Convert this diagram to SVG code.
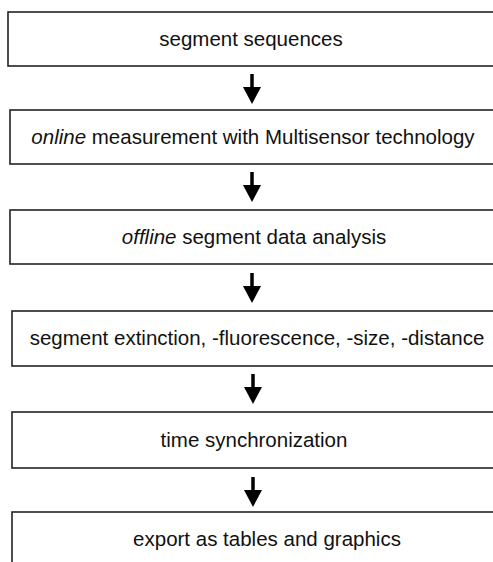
<svg xmlns="http://www.w3.org/2000/svg" width="493" height="562" viewBox="0 0 493 562">
<style>
.box{fill:#fff;stroke:#222;stroke-width:1.6}
.lbl{font-family:"Liberation Sans",Arial,sans-serif;font-size:20.5px;fill:#111;text-anchor:middle}
.shaft{stroke:#000;stroke-width:3.5;fill:none}
.head{fill:#000}
</style>
<rect width="493" height="562" fill="#fff"/>
<g id="connectors">
<line class="shaft" x1="252" y1="74" x2="252" y2="88"/><polygon class="head" points="243,87 261,87 252,104"/>
<line class="shaft" x1="252" y1="172" x2="252" y2="186"/><polygon class="head" points="243,185 261,185 252,202"/>
<line class="shaft" x1="252" y1="273" x2="252" y2="287"/><polygon class="head" points="243,286 261,286 252,303"/>
<line class="shaft" x1="253" y1="374" x2="253" y2="388"/><polygon class="head" points="244,387 262,387 253,404"/>
<line class="shaft" x1="253" y1="477" x2="253" y2="491"/><polygon class="head" points="244,490 262,490 253,507"/>
</g>
<g id="n1"><rect class="box" x="8" y="12" width="500" height="54"/><text class="lbl" x="251" y="46">segment sequences</text></g>
<g id="n2"><rect class="box" x="10" y="110" width="500" height="54"/><text class="lbl" x="253" y="144"><tspan font-style="italic">online</tspan> measurement with Multisensor technology</text></g>
<g id="n3"><rect class="box" x="10" y="210" width="500" height="54"/><text class="lbl" x="254" y="244"><tspan font-style="italic">offline</tspan> segment data analysis</text></g>
<g id="n4"><rect class="box" x="12" y="311" width="500" height="55"/><text class="lbl" x="257" y="345">segment extinction, -fluorescence, -size, -distance</text></g>
<g id="n5"><rect class="box" x="12" y="412" width="500" height="56"/><text class="lbl" x="254" y="447">time synchronization</text></g>
<g id="n6"><rect class="box" x="12" y="512" width="500" height="70"/><text class="lbl" x="267" y="546">export as tables and graphics</text></g>
</svg>
